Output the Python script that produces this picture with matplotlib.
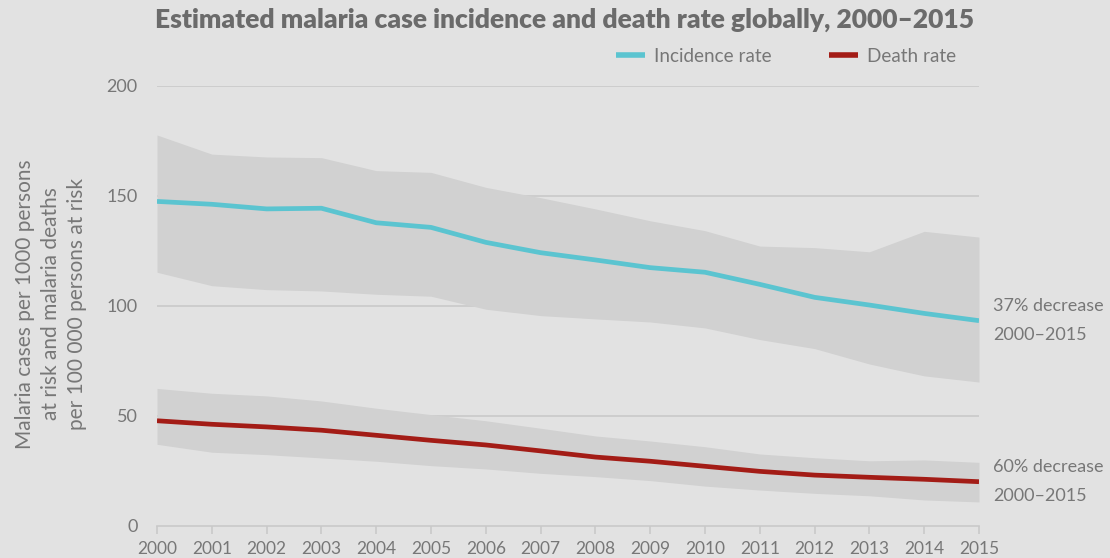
import matplotlib
matplotlib.use("Agg")
import matplotlib.pyplot as plt
from matplotlib.lines import Line2D

plt.rcParams['font.family'] = ['Lato', 'DejaVu Sans']

years = list(range(2000, 2016))
# incidence per 1000 persons at risk
incidence = [147.4, 146.1, 144.0, 144.3, 137.7, 135.6, 128.8, 124.1, 120.8, 117.3, 115.2, 109.7, 103.8, 100.3, 96.5, 93.2]
incidence_hi = [177.6, 168.9, 167.6, 167.3, 161.4, 160.6, 153.8, 149.1, 144.0, 138.6, 134.1, 127.1, 126.4, 124.5, 133.8, 131.2]
incidence_lo = [115.2, 109.1, 107.3, 106.7, 105.2, 104.3, 98.4, 95.5, 94.0, 92.6, 89.9, 84.6, 80.5, 73.5, 68.1, 65.3]
# deaths per 100 000 persons at risk
deaths = [47.7, 46.1, 44.9, 43.4, 41.1, 38.8, 36.7, 34.0, 31.2, 29.3, 27.0, 24.7, 23.0, 22.0, 21.1, 20.0]
deaths_hi = [62.4, 60.2, 59.0, 56.7, 53.4, 50.5, 47.7, 44.3, 40.8, 38.5, 35.9, 32.6, 30.9, 29.5, 29.9, 28.8]
deaths_lo = [37.0, 33.4, 32.3, 30.8, 29.3, 27.3, 25.8, 23.8, 22.3, 20.5, 18.0, 16.2, 14.7, 13.6, 11.7, 10.8]

yticks = [0, 50, 100, 150, 200]
title = "Estimated malaria case incidence and death rate globally, 2000\u20132015"
ylabel = "Malaria cases per 1000 persons\nat risk and malaria deaths\nper 100 000 persons at risk"
notes = [("37% decrease\n2000\u20132015", incidence[-1]), ("60% decrease\n2000\u20132015", deaths[-1])]

bg = '#e2e2e2'
band = '#d1d1d1'
grid = '#c9c9c9'
txt = '#777777'
cyan = '#5bc4d0'
red = '#a31c16'

fig = plt.figure(figsize=(11.1, 5.58), dpi=100, facecolor=bg)
ax = fig.add_axes([157 / 1110, 32.3 / 558, 822 / 1110, 440 / 558], facecolor=bg)

for y in yticks[1:]:
    ax.axhline(y, color=grid, lw=1.2, zorder=0)

ax.fill_between(years, incidence_lo, incidence_hi, color=band, lw=0, zorder=1)
ax.fill_between(years, deaths_lo, deaths_hi, color=band, lw=0, zorder=1)
ax.plot(years, incidence, color=cyan, lw=3.4, zorder=3, solid_capstyle='butt')
ax.plot(years, deaths, color=red, lw=3.4, zorder=3, solid_capstyle='butt')

ax.set_xlim(2000, 2015)
ax.set_ylim(0, 200)
ax.set_xticks(years)
ax.set_xticklabels([str(y) for y in years])
ax.set_yticks(yticks)
for s in ['top', 'right', 'left']:
    ax.spines[s].set_visible(False)
ax.spines['bottom'].set_color(grid)
ax.spines['bottom'].set_linewidth(1.2)
ax.tick_params(axis='x', colors=grid, length=6, width=1.2, labelcolor=txt, labelsize=12.5, pad=5)
ax.tick_params(axis='y', length=0, labelcolor=txt, labelsize=13, pad=14)

for label, yv in notes:
    ax.annotate(label, xy=(2015, yv), xytext=(10, 0), textcoords='offset points',
                ha='left', va='center', color=txt, fontsize=13, linespacing=2.0,
                annotation_clip=False)

fig.text(51 / 1110, 1 - 304 / 558, ylabel, rotation=90, ha='center', va='center',
         multialignment='center', color=txt, fontsize=15, linespacing=1.35)

fig.text(565 / 1110, 1 - 20 / 558, title, ha='center', va='center', color='#6b6b6b',
         fontsize=19, fontweight='heavy')

handles = [Line2D([], [], color=cyan, lw=4, solid_capstyle='butt'),
           Line2D([], [], color=red, lw=4, solid_capstyle='butt')]
fig.legend(handles, ['Incidence rate', 'Death rate'], loc='center', bbox_to_anchor=(786 / 1110, 1 - 56 / 558),
           ncol=2, frameon=False, fontsize=13.6, labelcolor=txt, handlelength=1.55, handletextpad=0.5,
           columnspacing=3.0)

fig.savefig('out.png', dpi=100, facecolor=bg)
